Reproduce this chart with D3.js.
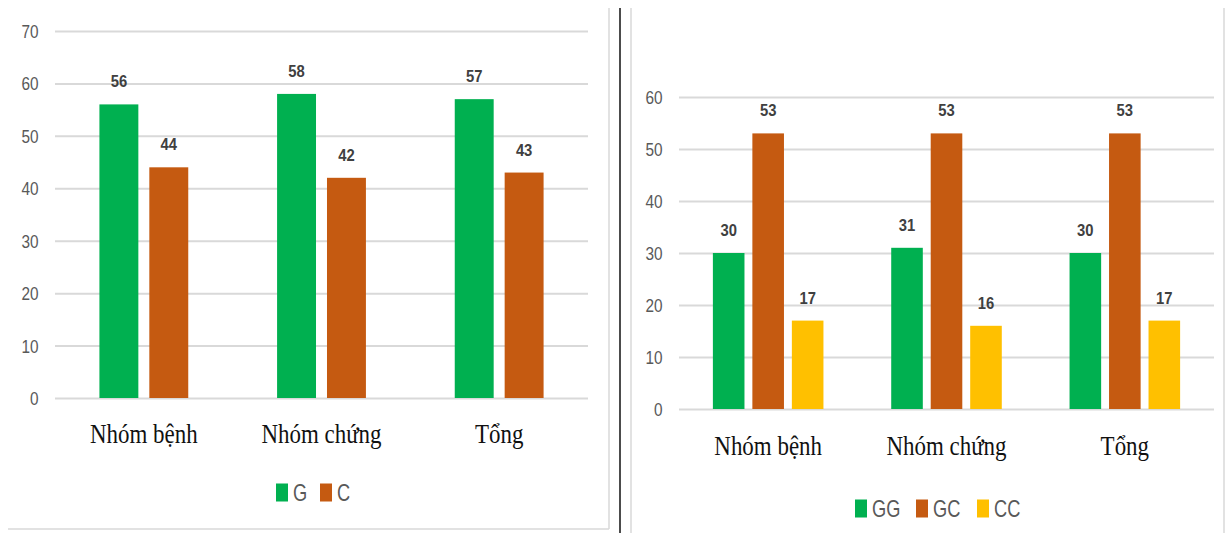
<!DOCTYPE html>
<html>
<head>
<meta charset="utf-8">
<script src="https://cdn.jsdelivr.net/npm/d3@7"></script>
<style>
  html, body { margin: 0; padding: 0; background: #fff; }
  svg { display: block; }
</style>
</head>
<body>
<svg id="chart" width="1232" height="533"></svg>
<script>
// Categories shared by both panels
const categories = ["Nhóm bệnh", "Nhóm chứng", "Tổng"];

// Allele frequencies (%)
const alleleKeys = ["G", "C"];
const alleleG = [56, 58, 57];
const alleleC = [44, 42, 43];
const alleleTicks = [0, 10, 20, 30, 40, 50, 60, 70];

// Genotype frequencies (%)
const genoKeys = ["GG", "GC", "CC"];
const genoGG = [30, 31, 30];
const genoGC = [53, 53, 53];
const genoCC = [17, 16, 17];
const genoTicks = [0, 10, 20, 30, 40, 50, 60];

const palette = { G: "#00B050", C: "#C55A11", GG: "#00B050", GC: "#C55A11", CC: "#FFC000" };

const svg = d3.select("#chart");

// Text with a horizontal squeeze applied around its anchor point
function squeezedText(parent, x, y, str, o) {
  return parent.append("text")
    .attr("transform", `translate(${x},${y}) scale(${o.sx},1)`)
    .attr("text-anchor", o.anchor || "middle")
    .attr("font-family", o.family)
    .attr("font-size", o.size)
    .attr("font-weight", o.weight || "normal")
    .attr("fill", o.fill)
    .text(str);
}

function drawPanel(p) {
  const g = svg.append("g");
  const x0 = d3.scaleBand().domain(categories).range([p.left, p.right]).paddingInner(0).paddingOuter(0);
  const groupW = x0.bandwidth() * p.groupFrac;
  const x1 = d3.scaleBand().domain(p.keys).range([0, groupW]).paddingInner(p.innerPad).paddingOuter(0);
  const y = d3.scaleLinear().domain(p.domain).range([p.bottom, p.top]);

  // Horizontal gridlines
  const axis = d3.axisLeft(y).tickValues(p.ticks).tickSize(-(p.right - p.left)).tickFormat(d3.format("d"));
  const ax = g.append("g").attr("transform", `translate(${p.left},0)`).call(axis);
  ax.select(".domain").remove();
  ax.selectAll(".tick line").attr("stroke", "#d9d9d9").attr("stroke-width", 2);
  ax.selectAll(".tick text").remove();
  ax.selectAll(".tick").each(function (d) {
    squeezedText(d3.select(this), -16.5, 6.5, d, {
      sx: 0.83, anchor: "end", family: "'Liberation Sans', Arial, sans-serif", size: 18.5, fill: "#595959"
    });
  });

  // Bars and value labels
  const groups = g.selectAll("g.cat").data(categories).join("g")
    .attr("class", "cat")
    .attr("transform", c => `translate(${x0(c) + (x0.bandwidth() - groupW) / 2},0)`);

  groups.each(function (c, i) {
    const grp = d3.select(this);
    p.keys.forEach((k, j) => {
      const v = p.values[j][i];
      grp.append("rect")
        .attr("x", x1(k))
        .attr("y", y(v))
        .attr("width", x1.bandwidth())
        .attr("height", y(0) - y(v))
        .attr("fill", palette[k]);
      squeezedText(grp, x1(k) + x1.bandwidth() / 2, y(v) - 17, v, {
        sx: 0.87, family: "'Liberation Sans', Arial, sans-serif", size: 17, weight: "bold", fill: "#404040"
      });
    });
  });

  // Category labels
  categories.forEach(c => {
    squeezedText(g, x0(c) + x0.bandwidth() / 2, p.catY, c, {
      sx: 0.85, family: "'Liberation Serif', 'Times New Roman', serif", size: 27, fill: "#111"
    });
  });

  // Legend
  p.keys.forEach((k, j) => {
    const lx = p.legendX + j * p.legendStep;
    g.append("rect").attr("x", lx).attr("y", p.legendY - 9).attr("width", 12).attr("height", 18).attr("fill", palette[k]);
    squeezedText(g, lx + 17, p.legendY + 8.5, k, {
      sx: 0.76, anchor: "start", family: "'Liberation Sans', Arial, sans-serif", size: 24, fill: "#595959"
    });
  });
}

// Panel frames
svg.append("line").attr("x1", 609).attr("x2", 609).attr("y1", 8).attr("y2", 529).attr("stroke", "#d9d9d9").attr("stroke-width", 1.5);
svg.append("line").attr("x1", 8).attr("x2", 609).attr("y1", 529).attr("y2", 529).attr("stroke", "#d9d9d9").attr("stroke-width", 1.5);
svg.append("line").attr("x1", 620).attr("x2", 620).attr("y1", 8).attr("y2", 533).attr("stroke", "#111").attr("stroke-width", 1.5);
svg.append("line").attr("x1", 631).attr("x2", 631).attr("y1", 8).attr("y2", 533).attr("stroke", "#d9d9d9").attr("stroke-width", 1.5);
svg.append("line").attr("x1", 1224).attr("x2", 1224).attr("y1", 8).attr("y2", 533).attr("stroke", "#d9d9d9").attr("stroke-width", 1.5);

drawPanel({
  keys: alleleKeys, values: [alleleG, alleleC], ticks: alleleTicks, domain: [0, 70],
  left: 55, right: 588, top: 31, bottom: 398,
  groupFrac: 0.5, innerPad: 0.22, catY: 443,
  legendX: 276, legendStep: 44, legendY: 492.5
});

drawPanel({
  keys: genoKeys, values: [genoGG, genoGC, genoCC], ticks: genoTicks, domain: [0, 60],
  left: 679, right: 1214, top: 97, bottom: 409,
  groupFrac: 0.62, innerPad: 0.2, catY: 455,
  legendX: 855, legendStep: 61, legendY: 508.5
});
</script>
</body>
</html>
